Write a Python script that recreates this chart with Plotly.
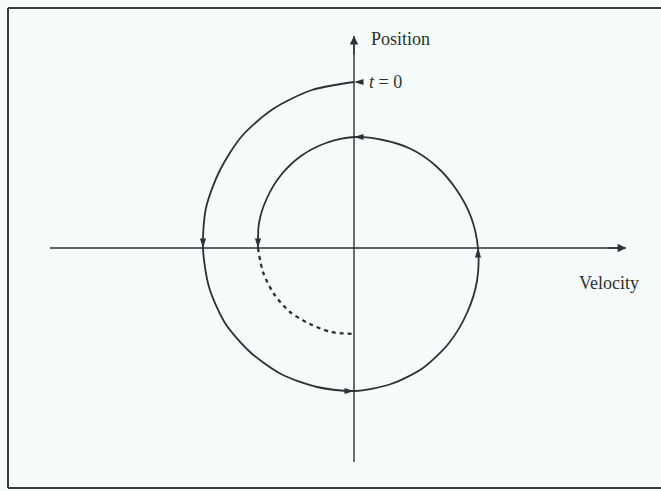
import plotly.graph_objects as go

# Phase-plane spiral (velocity, position), origin at axes crossing
spiral_v = [0, -42, -81, -112, -134, -148, -151, -145, -129, -104, -73, -37, 0,
            37, 69, 95, 113, 123, 124, 117, 102, 82, 57, 29, 0,
            -28, -53, -73, -87, -95, -96]
spiral_p = [166, 158, 139, 112, 78, 40, 0, -39, -75, -104, -126, -139, -143,
            -136, -120, -95, -65, -33, 0, 31, 59, 82, 99, 108, 111,
            105, 92, 73, 50, 25, 0]
dashed_v = [-96, -91, -80, -64, -44, -23, 0]
dashed_p = [0, -24, -46, -64, -76, -84, -86]

arrow_idx = [0, 6, 12, 18, 24, 30]
arrow_dir = [270, 180, 90, 0, 270, 180]   # left, down, right, up, left, down

vel_axis = [-304, 272]
pos_axis = [-214, 212]
x_label, y_label, start_label = "Velocity", "Position", "<i>t</i> = 0"

ink = "#2e3133"
fig = go.Figure()

fig.add_trace(go.Scatter(x=vel_axis, y=[0, 0], mode="lines", line=dict(color=ink, width=1.4), hoverinfo="skip"))
fig.add_trace(go.Scatter(x=[0, 0], y=pos_axis, mode="lines", line=dict(color=ink, width=1.4), hoverinfo="skip"))

fig.add_trace(go.Scatter(x=spiral_v, y=spiral_p, mode="lines",
                         line=dict(color=ink, width=1.8, shape="spline", smoothing=0.8), hoverinfo="skip"))
fig.add_trace(go.Scatter(x=dashed_v, y=dashed_p, mode="lines",
                         line=dict(color=ink, width=2.3, shape="spline", smoothing=0.8, dash="4px,4px"), hoverinfo="skip"))
fig.add_trace(go.Scatter(x=[spiral_v[i] for i in arrow_idx], y=[spiral_p[i] for i in arrow_idx], mode="markers",
                         marker=dict(symbol="arrow", angle=arrow_dir, size=10, color=ink, line=dict(width=0)),
                         hoverinfo="skip"))

# axis arrowheads
fig.add_annotation(x=vel_axis[1], y=0, ax=vel_axis[1] - 20, ay=0, xref="x", yref="y", axref="x", ayref="y",
                   showarrow=True, arrowhead=2, arrowsize=1.2, arrowwidth=1.4, arrowcolor=ink, text="")
fig.add_annotation(x=0, y=pos_axis[1], ax=0, ay=pos_axis[1] - 20, xref="x", yref="y", axref="x", ayref="y",
                   showarrow=True, arrowhead=2, arrowsize=1.2, arrowwidth=1.4, arrowcolor=ink, text="")

font = dict(family="Liberation Serif", size=18, color=ink)
fig.add_annotation(x=15, y=209, text=y_label, showarrow=False, xanchor="left", yanchor="middle", font=font)
fig.add_annotation(x=223, y=-35, text=x_label, showarrow=False, xanchor="left", yanchor="middle", font=font)
fig.add_annotation(x=13, y=spiral_p[0], text=start_label, showarrow=False, xanchor="left", yanchor="middle", font=font)

# frame (left, top, bottom edges; right edge lies outside the picture)
W, H = 661, 491
frame = dict(color="#3a3d40", width=2)
fig.add_shape(type="line", xref="paper", yref="paper", x0=8 / W, x1=8 / W, y0=3 / H, y1=1 - 8 / H, line=frame)
fig.add_shape(type="line", xref="paper", yref="paper", x0=8 / W, x1=1, y0=1 - 8 / H, y1=1 - 8 / H, line=frame)
fig.add_shape(type="line", xref="paper", yref="paper", x0=8 / W, x1=1, y0=3 / H, y1=3 / H, line=frame)

fig.update_layout(width=W, height=H, margin=dict(l=0, r=0, t=0, b=0),
                  paper_bgcolor="#f6fbfc", plot_bgcolor="#f6fbfc", showlegend=False, hovermode=False,
                  xaxis=dict(range=[-354, 307], visible=False, fixedrange=True),
                  yaxis=dict(range=[-243, 248], visible=False, fixedrange=True))

fig.write_html("out.html", config={"displayModeBar": False, "staticPlot": True},
               post_script="document.body.style.margin='0';document.body.style.overflow='hidden';")
